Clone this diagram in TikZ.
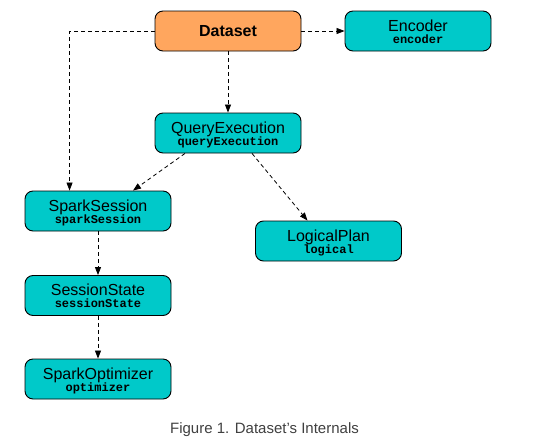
\documentclass[tikz,border=0pt]{standalone}
\usepackage{fontspec}
\setmainfont{Liberation Sans}
\setmonofont{Liberation Mono}
\usetikzlibrary{arrows.meta}
\definecolor{teal}{RGB}{0,201,201}
\definecolor{orng}{RGB}{255,166,94}
\definecolor{capgray}{RGB}{64,64,64}
\tikzset{
  tbox/.style={draw=black, line width=0.9pt, rounded corners=8pt, fill=teal,
    minimum width=146pt, minimum height=40pt, inner sep=0pt},
  obox/.style={tbox, fill=orng},
  ttl/.style={anchor=base, inner sep=0pt, font=\fontsize{16}{16}\selectfont},
  code/.style={anchor=base, inner sep=0pt, font=\ttfamily\bfseries\fontsize{12}{12}\selectfont},
  conn/.style={draw=black, line width=0.8pt, dash pattern=on 4pt off 3pt,
    -{Triangle[length=8pt,width=6pt]}},
}
\begin{document}
\begin{tikzpicture}[x=1pt,y=1pt]
\useasboundingbox[fill=white] (0,0) rectangle (535,-439);
% boxes
\node[obox, font=\bfseries\fontsize{16}{16}\selectfont] (ds) at (228,-31) {Dataset};
\node[tbox] (enc) at (418,-31) {};
\node[tbox] (qe) at (228,-133) {};
\node[tbox] (ss) at (98,-211) {};
\node[tbox] (lp) at (328.5,-241) {};
\node[tbox] (sst) at (98,-295.5) {};
\node[tbox] (so) at (98,-379) {};
% texts
\node[ttl] (encT) at ([yshift=-20.5pt]enc.north) {Encoder};
\node[code] (encC) at ([yshift=-32.5pt]enc.north) {encoder};
\node[ttl] (qeT) at ([yshift=-20.5pt]qe.north) {QueryExecution};
\node[code] (qeC) at ([yshift=-32.5pt]qe.north) {queryExecution};
\node[ttl] (ssT) at ([yshift=-20.5pt]ss.north) {SparkSession};
\node[code] (ssC) at ([yshift=-32.5pt]ss.north) {sparkSession};
\node[ttl] (lpT) at ([yshift=-20.5pt]lp.north) {LogicalPlan};
\node[code] (lpC) at ([yshift=-32.5pt]lp.north) {logical};
\node[ttl] (sstT) at ([yshift=-20.5pt]sst.north) {SessionState};
\node[code] (sstC) at ([yshift=-32.5pt]sst.north) {sessionState};
\node[ttl] (soT) at ([yshift=-20.5pt]so.north) {SparkOptimizer};
\node[code] (soC) at ([yshift=-32.5pt]so.north) {optimizer};
% caption
\node[text=capgray, font=\fontsize{15}{15}\selectfont, anchor=base] (cap) at (264.5,-433) {Figure 1. Dataset’s Internals};
% connectors
\draw[conn] (ds.east) -- (enc.west);
\draw[conn] (ds.south) -- (qe.north);
\draw[conn] (ds.west) -| ([xshift=45pt]ss.north west);
\draw[conn] ([xshift=-43pt]qe.south) -- ([xshift=35pt]ss.north);
\draw[conn] ([xshift=24pt]qe.south) -- ([xshift=-21pt]lp.north);
\draw[conn] (ss.south) -- (sst.north);
\draw[conn] (sst.south) -- (so.north);
\end{tikzpicture}
\end{document}
